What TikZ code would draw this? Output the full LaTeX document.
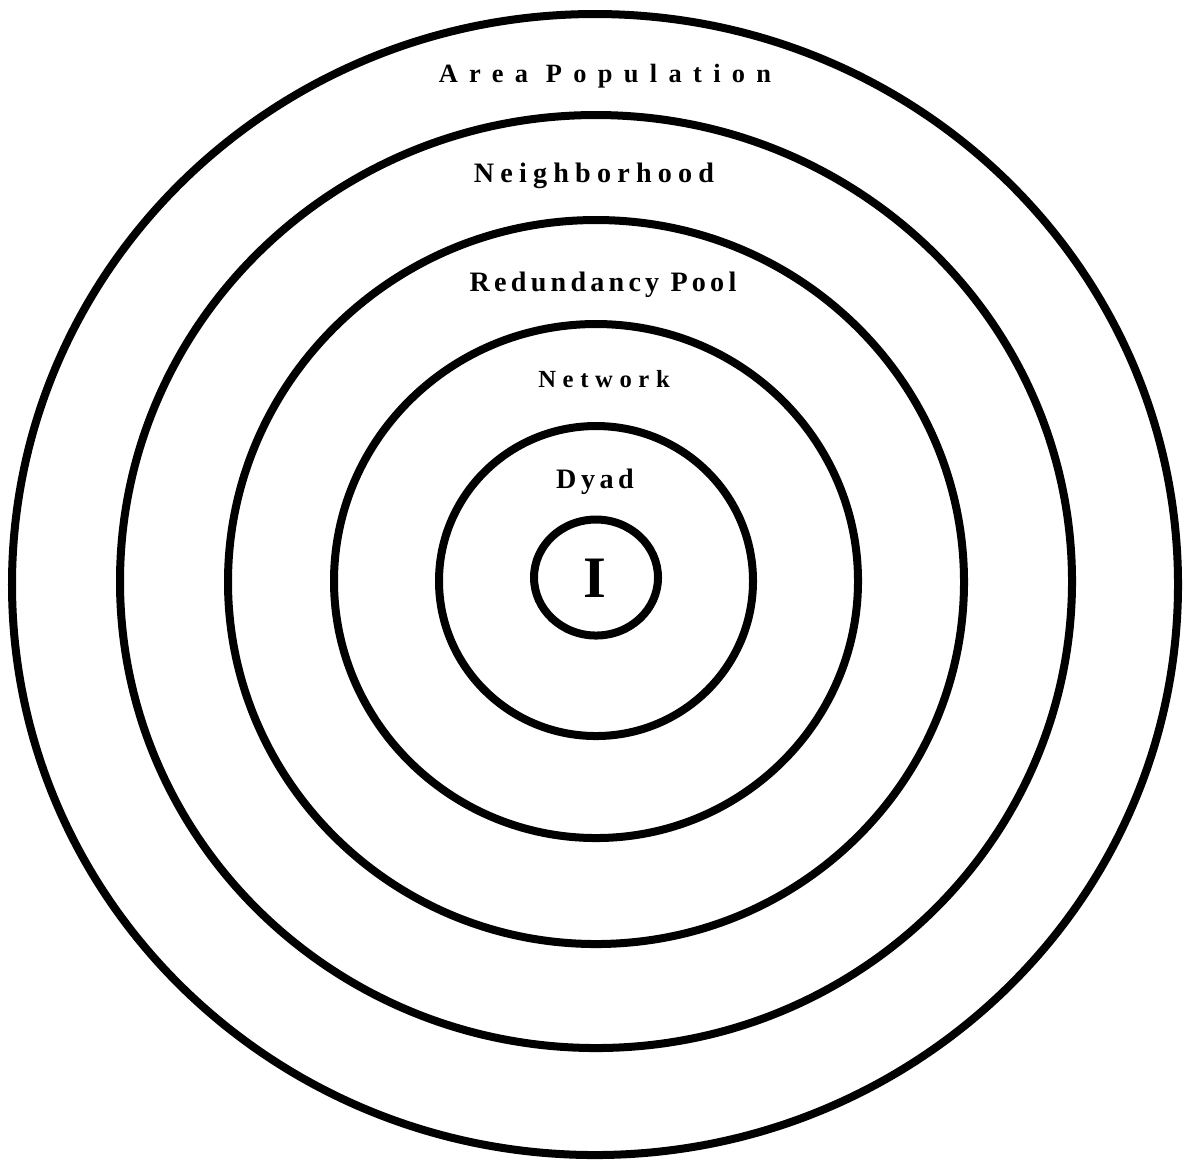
\documentclass[tikz,border=0pt]{standalone}
\usepackage{fontspec}
\setmainfont{Liberation Serif}
\usetikzlibrary{positioning}

\begin{document}
\begin{tikzpicture}[x=0.01cm, y=-0.01cm,
    ring/.style={line width=0.08cm},
    lbl/.style={anchor=base, inner sep=0pt}]
  \useasboundingbox (0,0) rectangle (1183,1159);
  % rings, outside in
  \draw[ring] (595,584.5) ellipse [x radius=583, y radius=570.5];
  \draw[ring] (596,581.5) ellipse [x radius=476, y radius=466.5];
  \draw[ring] (596,582) ellipse [x radius=368, y radius=362];
  \draw[ring] (596,581) ellipse [x radius=262, y radius=257];
  \draw[ring] (596,581) ellipse [x radius=157, y radius=155];
  \draw[ring] (596,577.5) ellipse [x radius=62, y radius=58];
  % labels
  \node[lbl, font=\bfseries\fontsize{7.5}{9}\selectfont\addfontfeatures{LetterSpace=43}] (area) at (605,82) {Area Population};
  \node[lbl, font=\bfseries\fontsize{8}{9}\selectfont\addfontfeatures{LetterSpace=22}] (hood) at (594,182) {Neighborhood};
  \node[lbl, font=\bfseries\fontsize{8}{9}\selectfont\addfontfeatures{LetterSpace=15}] (pool) at (603,291) {Redundancy Pool};
  \node[lbl, font=\bfseries\fontsize{7}{9}\selectfont\addfontfeatures{LetterSpace=27}] (net) at (604,387) {Network};
  \node[lbl, font=\bfseries\fontsize{8}{9}\selectfont\addfontfeatures{LetterSpace=16}] (dyad) at (595,488) {Dyad};
  \node[lbl, font=\bfseries\fontsize{16.7}{18}\selectfont] (self) at (595,597) {I};
\end{tikzpicture}
\end{document}
